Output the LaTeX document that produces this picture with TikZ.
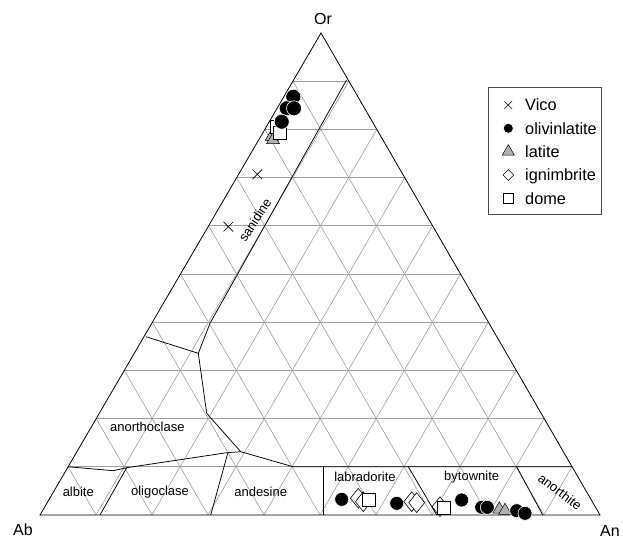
\documentclass[tikz,border=0pt]{standalone}
\usepackage{fontspec}
\setmainfont{Liberation Sans}
\usetikzlibrary{shapes.geometric,shapes.misc}

\begin{document}
\begin{tikzpicture}[x=1pt,y=-1pt,
				gridline/.style={draw=black!38, line width=0.6pt},
				fieldline/.style={draw=black, line width=0.75pt},
				fieldlabel/.style={font=\fontsize{13}{13}\selectfont, inner sep=0pt},
				cornerlabel/.style={font=\fontsize{16}{16}\selectfont, inner sep=0pt},
				keytext/.style={font=\fontsize{16.3}{18}\selectfont, inner sep=0pt, anchor=base west},
				vico/.style={cross out, draw=black, line width=0.6pt, minimum size=9pt, inner sep=0pt},
				olivin/.style={circle, fill=black, draw=white, line width=0.6pt, minimum size=14pt, inner sep=0pt},
				latitemk/.style={regular polygon, regular polygon sides=3, fill=black!30, draw=black, line width=0.5pt, minimum size=15pt, inner sep=0pt},
				ignim/.style={diamond, draw=black, fill=white, line width=0.6pt, minimum width=16pt, minimum height=20pt, inner sep=0pt},
				domemk/.style={rectangle, draw=black, fill=white, line width=0.6pt, minimum size=13pt, inner sep=0pt}
			]
			\useasboundingbox (0,0) rectangle (623,540);
			\coordinate (Ab) at (40,515);
			\coordinate (An) at (600,515);
			\coordinate (Or) at (321,33);
			% grid
			\foreach \i [evaluate=\i as \j using int(10-\i)] in {1,...,9} {
				\draw[gridline] (barycentric cs:Ab=\j,Or=\i) -- (barycentric cs:An=\j,Or=\i);
				\draw[gridline] (barycentric cs:Ab=\j,An=\i) -- (barycentric cs:Or=\j,An=\i);
				\draw[gridline] (barycentric cs:An=\j,Ab=\i) -- (barycentric cs:Or=\j,Ab=\i);
			}
			\draw[line width=0.8pt] (Ab) -- (An) -- (Or) -- cycle;
			% field boundaries
			\coordinate (or10left) at (barycentric cs:Ab=9,Or=1);
			\coordinate (or10right) at (barycentric cs:An=9,Or=1);
			\draw[fieldline] (346.5,80) -- (210,323.3) -- (198.3,353.3) -- (206.7,413.3) -- (240.7,451.7) -- (293.3,466.8) -- (or10right);
			\draw[fieldline] (or10left) -- (113.3,470.7) -- (126.7,467.7) -- (226.7,452.7) -- (240.7,451.7);
			\draw[fieldline] (146,336.7) -- (198.3,353.3);
			\draw[fieldline] (126.7,467.7) -- (100,515);
			\draw[fieldline] (227.7,453.3) -- (210.7,515);
			\draw[fieldline] (323.3,466.8) -- (323.3,515);
			\draw[fieldline] (408.3,466.8) -- (436.7,515);
			\draw[fieldline] (516.7,466.8) -- (542.7,515);
			% labels
			\node[cornerlabel] (lblor) at (323,19) {Or};
			\node[cornerlabel] (lblab) at (23,530) {Ab};
			\node[cornerlabel] (lblan) at (610,531) {An};
			\node[fieldlabel, rotate=57] (sanidine) at (255,220) {sanidine};
			\node[fieldlabel] (anorthoclase) at (147.3,426.7) {anorthoclase};
			\node[fieldlabel] (albite) at (78.3,491.7) {albite};
			\node[fieldlabel] (oligoclase) at (160,491.7) {oligoclase};
			\node[fieldlabel] (andesine) at (260.7,491.7) {andesine};
			\node[fieldlabel] (labradorite) at (365,476.7) {labradorite};
			\node[fieldlabel] (bytownite) at (471.7,476.7) {bytownite};
			\node[fieldlabel, rotate=-37] (anorthite) at (560,491.7) {anorthite};
			% samples near Or
			\foreach \x/\y [count=\k] in {271.7/136.7, 273/140}
				\node[latitemk] (lat\k) at (\x,\y) {};
			\foreach \x/\y [count=\k] in {276.7/126.7, 280/133.3}
				\node[domemk] (dom\k) at (\x,\y) {};
			\foreach \x/\y [count=\k] in {293.3/96.7, 286.7/108.3, 294/108.3, 281.7/121.7}
				\node[olivin, minimum size=15pt] (oli\k) at (\x,\y) {};
			\foreach \x/\y [count=\k] in {257.3/174.3, 228.3/226.7}
				\node[vico] (vic\k) at (\x,\y) {};
			% samples near Ab-An
			\foreach \x/\y [count=\k] in {341.7/499.3, 396.7/503.3, 461.7/500, 481.7/507.3, 487.3/507.3}
				\node[olivin] (olb\k) at (\x,\y) {};
			\foreach \x/\y [count=\k] in {358.3/498.3, 363.3/501.7, 411.7/501.7, 416.7/502.7, 440/506.7}
				\node[ignim] (ign\k) at (\x,\y) {};
			\foreach \x/\y [count=\k] in {368.3/499.3, 444/507.3}
				\node[domemk] (dmb\k) at (\x,\y) {};
			\foreach \x/\y [count=\k] in {499.3/509.3, 505/510.7}
				\node[latitemk] (ltb\k) at (\x,\y) {};
			\foreach \x/\y [count=\k] in {516.7/510.7, 525/513.3}
				\node[olivin] (olc\k) at (\x,\y) {};
			% legend
			\node[draw=black!70, line width=0.8pt, minimum width=113pt, minimum height=127pt, inner sep=0pt] (legend) at (544.5,150.7) {};
			\node[vico, minimum size=7pt] (key1) at (508.3,105) {};
			\node[olivin, minimum size=10pt] (key2) at (508.3,128.3) {};
			\node[latitemk, minimum size=14pt] (key3) at (508.3,151.7) {};
			\node[ignim, minimum width=11pt, minimum height=11pt] (key4) at (508.3,175) {};
			\node[domemk, minimum size=10.5pt] (key5) at (508.3,198.3) {};
			\node[keytext] (keytext1) at (525,110.8) {Vico};
			\node[keytext] (keytext2) at (525,134.1) {olivinlatite};
			\node[keytext] (keytext3) at (525,157.5) {latite};
			\node[keytext] (keytext4) at (525,180.8) {ignimbrite};
			\node[keytext] (keytext5) at (525,204.1) {dome};
			\end{tikzpicture}
\end{document}
